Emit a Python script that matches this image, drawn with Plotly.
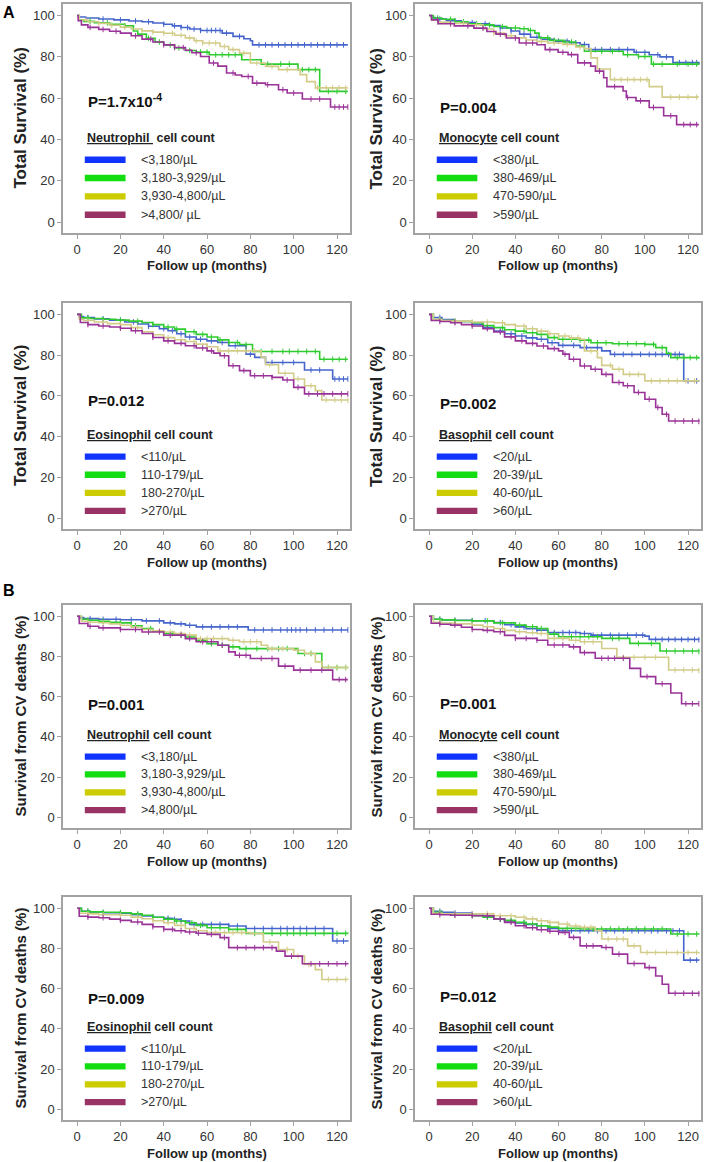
import plotly.graph_objects as go
from bisect import bisect_right

# ---------------- DATA ----------------
# Each panel: 4 series (blue, green, yellow, purple); step times (months), survival (%), censor times
NEUT_OS_T = [
    [0, 1, 4, 10, 17, 24, 30, 35, 40, 44, 48, 52, 57, 67, 72, 77, 80, 81, 125],
    [0, 1, 3, 8, 15, 22, 26, 28, 32, 36, 40, 45, 50, 55, 61, 76, 85, 102, 112, 125],
    [0, 1, 5, 10, 15, 20, 25, 30, 35, 40, 45, 50, 54, 58, 66, 70, 75, 80, 87, 93, 103, 106, 110, 125],
    [0, 0.5, 2, 5, 10, 15, 20, 25, 30, 35, 40, 45, 50, 53, 57, 61, 65, 69, 73, 76, 81, 87, 93, 97, 104, 117, 125],
]
NEUT_OS_S = [
    [100, 99.3, 98.8, 98.3, 97.9, 97.4, 97.0, 96.4, 95.8, 95.0, 94.2, 93.5, 92.8, 91.5, 89.9, 88.8, 87.8, 85.8, 85.8],
    [100, 98, 97.2, 96.5, 95.8, 95, 92.5, 91, 89, 87.2, 85.8, 84.3, 83.1, 82.3, 81, 78.6, 76.5, 73.8, 63.3, 63.3],
    [100, 97.8, 97, 96.2, 95.3, 94.4, 93.5, 92.6, 92, 91.4, 90.5, 89.2, 87.8, 86.7, 85, 83.5, 81.8, 77, 75.4, 73.8, 71.4, 68, 65, 65],
    [100, 97.5, 95.5, 94.3, 93.3, 92.4, 91.5, 90.2, 88.6, 87.2, 85.8, 84.5, 83.2, 82, 80.2, 77, 75.5, 72.2, 71.2, 70.5, 67.3, 66.5, 64.1, 62.5, 59.6, 55.7, 55.7],
]
NEUT_OS_C = [
    [12, 20, 27, 33, 40, 45, 48, 51, 54, 57, 60, 62, 64, 66, 69, 75, 84, 87, 90, 93, 96, 99, 102, 105, 108, 111, 114, 117, 120, 123],
    [6, 14, 22, 33, 38, 43, 47, 52, 57, 60, 64, 67, 70, 73, 88, 94, 98, 104, 107, 110, 116, 120, 124],
    [4, 10, 16, 22, 30, 35, 40, 44, 48, 52, 55, 58, 61, 64, 68, 72, 77, 83, 90, 97, 111, 115, 118, 121, 124],
    [6, 12, 18, 27, 34, 40, 45, 49, 55, 63, 72, 79, 83, 88, 95, 100, 108, 112, 119, 121, 123, 125],
]

MONO_OS_T = [
    [0, 1, 3, 8, 15, 22, 28, 33, 38, 42, 47, 52, 58, 65, 70, 74, 95, 102, 107, 113, 125],
    [0, 2, 6, 12, 18, 24, 30, 36, 42, 46, 49, 51, 56, 62, 68, 72, 90, 97, 103, 125],
    [0, 1, 4, 10, 18, 25, 30, 35, 40, 45, 50, 55, 62, 68, 72, 75, 78, 84, 102, 108, 125],
    [0, 1.2, 4.2, 11.7, 20.8, 26.8, 31, 35.8, 41.8, 50, 53.8, 59.8, 64.4, 68.9, 74.9, 77.1, 80.9, 82.4, 89.9, 91.4, 95.9, 102, 108.7, 114.7, 125],
]
MONO_OS_S = [
    [100, 99, 98.3, 97.5, 96.6, 96, 95.2, 94, 92.5, 91, 89.5, 88.5, 87.6, 86.8, 86, 83.5, 82.2, 81, 80, 77.2, 76.3],
    [100, 98.8, 98.2, 97, 96, 95.5, 94.7, 94, 93.6, 92.8, 91.5, 89.2, 88, 87.2, 85.2, 82.7, 81, 80.2, 76.5, 76.3],
    [100, 98, 96.8, 96.2, 95.5, 93.5, 91.5, 90.2, 89.2, 88.2, 87.5, 86.7, 86, 84.8, 84, 79.5, 74.1, 69, 65.6, 60.5, 60.5],
    [100, 97.9, 96, 95, 93.9, 92.3, 91, 89.1, 86.7, 85.9, 83.5, 82.2, 81.1, 77.1, 75.5, 73.1, 69.9, 65.6, 63.5, 60.3, 58.7, 55.5, 51.5, 47.2, 47.2],
]
MONO_OS_C = [
    [5, 12, 20, 26, 33, 38, 44, 50, 55, 60, 64, 68, 72, 77, 80, 84, 88, 92, 96, 100, 106, 110, 116, 119, 122, 124],
    [4, 10, 16, 22, 28, 34, 40, 44, 47, 55, 58, 63, 66, 75, 80, 85, 92, 97, 100, 104, 108, 115, 120, 124],
    [4, 10, 16, 22, 30, 38, 45, 52, 58, 64, 70, 86, 89, 92, 95, 98, 101, 112, 116, 120, 124],
    [4, 10, 18, 25, 33, 40, 45, 48, 56, 62, 66, 72, 79, 86, 92, 98, 104, 112, 118, 121, 124],
]

EOS_OS_T = [
    [0, 1, 3, 8, 15, 22, 28, 33, 38, 42, 46, 50, 55, 60, 65, 70, 78, 82, 87, 105, 118, 125],
    [0, 2, 6, 12, 18, 24, 30, 35, 40, 45, 50, 55, 60, 65, 70, 75, 81, 112, 125],
    [0, 1, 3, 8, 14, 20, 25, 30, 35, 40, 45, 50, 55, 60, 65, 85, 87, 93, 100, 105, 110, 113, 125],
    [0, 1.5, 5, 10, 15, 20, 25, 30, 35, 40, 45, 50, 55, 60, 63, 66, 70, 75, 80, 90, 95, 100, 105, 125],
]
EOS_OS_S = [
    [100, 99, 98.5, 97.8, 97.2, 96.3, 95.3, 94.2, 93, 92, 90.5, 88.9, 87.8, 87, 86.2, 84.6, 80.5, 78.9, 76.4, 72.7, 68.3, 68.3],
    [100, 98.3, 98, 97.6, 97.2, 96.7, 96, 95, 93.8, 92.8, 91.5, 90.2, 88.9, 87.5, 86.2, 85.2, 81.8, 78, 78],
    [100, 97.5, 97, 96.3, 95.5, 95, 93.5, 91.5, 90, 88.6, 87.6, 86.7, 85.4, 84.1, 82.1, 78.9, 75.3, 71.1, 68.3, 65, 62.6, 58, 57.8],
    [100, 96, 95, 94.3, 93.8, 93.2, 92, 90.6, 88.7, 87, 85.8, 84.6, 83.5, 82.1, 81, 79.7, 74.8, 72.4, 69.9, 69.1, 67.8, 64.2, 61, 61],
]
EOS_OS_C = [
    [5, 12, 20, 26, 33, 40, 44, 48, 52, 57, 62, 67, 73, 80, 90, 95, 100, 108, 112, 119, 121, 123, 125],
    [5, 12, 20, 28, 35, 42, 46, 50, 54, 58, 62, 66, 70, 74, 78, 85, 90, 95, 98, 102, 106, 110, 114, 118, 121, 124],
    [5, 12, 20, 28, 35, 42, 48, 54, 60, 66, 70, 74, 78, 82, 89, 96, 102, 108, 115, 119, 122, 125],
    [5, 12, 20, 27, 35, 42, 48, 54, 58, 62, 68, 72, 77, 82, 86, 90, 97, 102, 107, 111, 114, 118, 122, 125],
]

BASO_OS_T = [
    [0, 2, 6, 12, 20, 25, 30, 35, 40, 45, 50, 55, 60, 70, 80, 84, 118, 125],
    [0, 2, 6, 12, 20, 25, 30, 35, 40, 45, 50, 55, 60, 70, 75, 85, 100, 105, 110, 112, 125],
    [0, 2, 6, 10, 20, 30, 35, 40, 45, 50, 55, 60, 65, 70, 72, 78, 80, 85, 90, 100, 125],
    [0, 1, 5, 10, 15, 20, 25, 30, 35, 40, 45, 50, 55, 60, 62, 65, 70, 75, 80, 85, 90, 95, 100, 105, 108, 111, 125],
]
BASO_OS_S = [
    [100, 98.5, 97.5, 96.5, 95.1, 93.5, 91.8, 90.5, 89.4, 88.5, 87.8, 86.1, 84.8, 83.7, 82.1, 80.4, 67.4, 67.2],
    [100, 97.5, 97, 96.5, 95.9, 94.5, 93.5, 92.5, 91.8, 91, 90.2, 88.6, 87.8, 87.4, 86.1, 85.6, 85.3, 83.7, 80.9, 78.8, 78.3],
    [100, 97.5, 97, 96.7, 96.3, 95.9, 95, 94.3, 93, 91.8, 90.5, 89.4, 88.5, 87.8, 82.1, 78.8, 75, 73.1, 70.6, 67.4, 67.2],
    [100, 97, 96.5, 95.9, 95, 94.3, 93, 91.4, 89, 87, 85.8, 84.5, 83.2, 82.1, 80.5, 78, 74.7, 73.1, 70.6, 66.6, 65, 61.7, 58.4, 54.3, 51, 47.7, 47.5],
]
BASO_OS_C = [
    [5, 12, 20, 27, 33, 38, 43, 48, 52, 57, 62, 67, 73, 78, 86, 90, 94, 98, 102, 105, 108, 111, 114, 116, 120, 124],
    [5, 12, 20, 27, 34, 40, 44, 48, 52, 58, 62, 66, 70, 74, 78, 82, 88, 92, 96, 100, 104, 108, 115, 118, 121, 124],
    [5, 12, 20, 27, 34, 40, 44, 48, 52, 56, 60, 63, 66, 69, 75, 84, 88, 93, 97, 103, 107, 111, 115, 119, 123],
    [5, 12, 20, 27, 33, 38, 43, 48, 53, 58, 63, 67, 72, 77, 82, 88, 92, 97, 102, 106, 110, 114, 118, 122, 125],
]

NEUT_CV_T = [
    [0, 1, 3, 10, 20, 30, 40, 45, 50, 55, 79, 125],
    [0, 2, 5, 10, 15, 20, 25, 30, 35, 40, 45, 50, 55, 60, 65, 70, 75, 102, 113, 125],
    [0, 2, 5, 10, 15, 20, 25, 30, 35, 40, 45, 50, 55, 70, 75, 85, 88, 100, 105, 110, 113, 125],
    [0, 1, 5, 10, 20, 30, 40, 50, 55, 65, 70, 73, 80, 93, 100, 118, 125],
]
NEUT_CV_S = [
    [100, 99.3, 98.8, 98.5, 98.3, 97.7, 96.7, 96.2, 95.5, 94.7, 93.2, 93.2],
    [100, 98.5, 98, 97.5, 97, 96.7, 95.3, 93.9, 92.6, 91.4, 90.6, 89.7, 88, 86.4, 85.6, 84.8, 83.9, 81.5, 74.5, 74.5],
    [100, 97.5, 97, 96.8, 96.2, 95.5, 94.5, 93.4, 92.8, 92.2, 91.4, 90.6, 88.9, 88.1, 87.3, 85.6, 83.9, 83.1, 81.5, 77.3, 74.5, 74],
    [100, 96.4, 95, 94.2, 93.4, 92.2, 90.6, 88.9, 87.3, 85.6, 82.3, 80.6, 79, 75.2, 73.2, 68.5, 68.5],
]
NEUT_CV_C = [
    [6, 12, 18, 25, 32, 38, 43, 48, 52, 58, 62, 66, 70, 74, 82, 86, 90, 94, 97, 99, 101, 103, 106, 110, 114, 118, 122, 125],
    [5, 12, 20, 27, 34, 40, 44, 48, 52, 57, 62, 67, 72, 78, 83, 88, 93, 97, 105, 108, 116, 120, 124],
    [5, 12, 20, 27, 33, 38, 43, 48, 52, 57, 60, 63, 67, 72, 77, 80, 83, 90, 95, 102, 108, 116, 120, 124],
    [6, 12, 20, 27, 33, 38, 43, 48, 52, 58, 62, 67, 75, 78, 85, 90, 96, 103, 108, 113, 121, 124],
]

MONO_CV_T = [
    [0, 2, 6, 12, 20, 30, 35, 40, 45, 50, 55, 70, 75, 100, 102, 125],
    [0, 2, 6, 12, 20, 30, 40, 45, 50, 55, 60, 80, 93, 107, 125],
    [0, 2, 6, 12, 20, 25, 30, 35, 40, 45, 50, 55, 65, 70, 80, 87, 111, 125],
    [0, 1, 5, 10, 15, 20, 25, 30, 35, 40, 50, 55, 65, 70, 77, 93, 98, 105, 112, 117, 125],
]
MONO_CV_S = [
    [100, 98.5, 98.2, 98, 97.8, 96.9, 95.8, 94.7, 93.8, 93.1, 91.9, 91.4, 90.6, 90.1, 88.5, 88.3],
    [100, 98.5, 98.2, 97.9, 97.7, 96.7, 95.6, 94.8, 93.9, 91.1, 89.8, 89, 86.5, 82.7, 82.5],
    [100, 97, 96.6, 96.2, 95.6, 94.8, 93.9, 93, 92.3, 91.8, 91.4, 89, 88.1, 87.3, 84, 79.6, 73.3, 73],
    [100, 96.5, 96, 95.6, 94.5, 93.4, 93, 92.3, 90.5, 89, 88.1, 85.7, 84.8, 81.9, 79.1, 74.1, 70, 66.4, 61.8, 56.5, 56.5],
]
MONO_CV_C = [
    [5, 12, 20, 26, 33, 38, 44, 50, 55, 58, 62, 65, 68, 72, 76, 80, 84, 88, 92, 96, 99, 105, 108, 111, 114, 117, 120, 123, 125],
    [5, 12, 20, 27, 34, 42, 48, 52, 58, 62, 66, 70, 74, 78, 85, 88, 97, 103, 110, 114, 118, 122, 125],
    [5, 12, 20, 27, 34, 42, 48, 52, 58, 62, 68, 72, 76, 90, 95, 100, 105, 114, 118, 122, 125],
    [5, 12, 20, 27, 33, 40, 45, 50, 58, 62, 67, 72, 80, 83, 86, 90, 101, 108, 119, 122, 125],
]

EOS_CV_T = [
    [0, 2, 6, 12, 20, 25, 30, 35, 40, 44, 48, 52, 70, 78, 118, 125],
    [0, 2, 6, 12, 20, 25, 30, 35, 40, 45, 50, 55, 60, 70, 78, 125],
    [0, 1, 5, 10, 20, 25, 30, 35, 40, 45, 50, 55, 60, 80, 86, 93, 100, 105, 110, 113, 125],
    [0, 1, 5, 10, 15, 20, 25, 30, 35, 40, 45, 50, 55, 60, 66, 70, 92, 96, 104, 125],
]
EOS_CV_S = [
    [100, 98.5, 98.2, 97.8, 97.5, 96.8, 96.2, 95.5, 95, 94.5, 93.7, 92, 91.2, 89.9, 83.7, 83.5],
    [100, 98.5, 98.2, 98, 97.8, 97.2, 96.5, 95.5, 94.5, 93.7, 92.8, 91.5, 90.3, 89.5, 87.5, 87.3],
    [100, 97.5, 97.2, 96.8, 96.5, 95.6, 94.8, 93.8, 92.8, 91.5, 89.9, 88.8, 87.9, 87.4, 83.2, 79.5, 76.2, 72, 69.5, 64.6, 64.5],
    [100, 96, 95.6, 95.3, 94.6, 94, 93.2, 92, 90.8, 89.5, 88.8, 88.2, 87.6, 87, 85.4, 80.4, 78.7, 76.2, 72.4, 72.2],
]
EOS_CV_C = [
    [5, 12, 20, 28, 35, 42, 45, 48, 54, 58, 62, 66, 70, 74, 82, 86, 90, 94, 97, 100, 103, 106, 110, 114, 120, 123],
    [5, 12, 20, 28, 35, 42, 46, 50, 53, 57, 62, 66, 70, 74, 82, 86, 90, 94, 97, 100, 103, 106, 110, 114, 120, 124],
    [5, 12, 20, 28, 35, 42, 48, 54, 60, 64, 68, 72, 76, 89, 97, 102, 107, 116, 120, 124],
    [5, 12, 20, 28, 35, 40, 44, 48, 52, 56, 62, 68, 74, 78, 82, 86, 90, 99, 108, 112, 116, 120, 124],
]

BASO_CV_T = [
    [0, 2, 6, 12, 20, 25, 30, 35, 40, 45, 50, 55, 60, 118, 125],
    [0, 2, 6, 12, 20, 25, 30, 35, 40, 45, 50, 55, 60, 70, 112, 125],
    [0, 2, 6, 12, 20, 30, 40, 45, 50, 55, 60, 65, 70, 77, 80, 92, 98, 125],
    [0, 1, 5, 10, 20, 30, 35, 40, 45, 50, 55, 60, 65, 70, 80, 85, 92, 100, 105, 108, 111, 125],
]
BASO_CV_S = [
    [100, 98.5, 98, 97.6, 97.2, 96, 94.7, 93.7, 92.7, 92, 91.3, 90, 88.8, 74.2, 74],
    [100, 98, 97.2, 96.8, 96.3, 95.5, 94.7, 94, 93, 92.2, 91.3, 90.6, 90, 89.7, 87.2, 87],
    [100, 97.5, 97.3, 97.2, 97.2, 96.3, 95.5, 94.7, 93.8, 93, 92.2, 91.2, 90.5, 88.8, 84.7, 81.3, 78, 77.5],
    [100, 97, 96.8, 96.5, 96.3, 94.7, 93, 91.3, 90.3, 89.3, 88.6, 88, 85.5, 81.3, 80.5, 77.2, 72.5, 70.5, 66.3, 62.2, 57.7, 57.5],
]
BASO_CV_C = [
    [5, 12, 20, 27, 33, 38, 44, 50, 56, 62, 66, 70, 74, 78, 82, 86, 90, 94, 97, 100, 103, 106, 110, 113, 116, 121, 124],
    [5, 12, 20, 27, 33, 38, 44, 48, 52, 56, 60, 64, 68, 72, 76, 80, 84, 88, 92, 96, 100, 104, 108, 115, 120, 124],
    [5, 12, 20, 27, 33, 38, 44, 48, 52, 56, 60, 64, 68, 72, 75, 83, 87, 90, 95, 101, 105, 110, 115, 120, 124],
    [5, 12, 20, 27, 33, 38, 44, 48, 52, 56, 60, 63, 67, 73, 76, 82, 88, 95, 102, 114, 118, 122, 125],
]

NEUT_LABELS = ["<3,180/\u00b5L", "3,180-3,929/\u00b5L", "3,930-4,800/\u00b5L", ">4,800/ \u00b5L"]
NEUT_LABELS_CV = ["<3,180/\u00b5L", "3,180-3,929/\u00b5L", "3,930-4,800/\u00b5L", ">4,800/\u00b5L"]
MONO_LABELS = ["<380/\u00b5L", "380-469/\u00b5L", "470-590/\u00b5L", ">590/\u00b5L"]
EOS_LABELS = ["<110/\u00b5L", "110-179/\u00b5L", "180-270/\u00b5L", ">270/\u00b5L"]
BASO_LABELS = ["<20/\u00b5L", "20-39/\u00b5L", "40-60/\u00b5L", ">60/\u00b5L"]

X_TICKS = [0, 20, 40, 60, 80, 100, 120]
Y_TICKS = [0, 20, 40, 60, 80, 100]

# ---------------- STYLE / LAYOUT ----------------
W, H = 709, 1162
FONT = "Liberation Sans, Arial, sans-serif"
LINE_COLORS = ["#4565cc", "#2fcc2f", "#d2cc88", "#9a3399"]
SWATCH_COLORS = ["#1133ff", "#11dd11", "#cccc00", "#993366"]
BOX = "#a3a3a3"
COLS = [(63, 350), (415, 701)]
ROWS = [(4, 233), (303, 529), (605, 828), (897, 1120)]

PANELS = [
    dict(T=NEUT_OS_T, S=NEUT_OS_S, C=NEUT_OS_C, labels=NEUT_LABELS, name="Neutrophil\u00a0", title="Total Survival (%)",
         p="P=1.7x10<sup>-4</sup>", py=0.42, row=0, col=0),
    dict(T=MONO_OS_T, S=MONO_OS_S, C=MONO_OS_C, labels=MONO_LABELS, name="Monocyte", title="Total Survival (%)",
         p="P=0.004", py=0.452, row=0, col=1),
    dict(T=EOS_OS_T, S=EOS_OS_S, C=EOS_OS_C, labels=EOS_LABELS, name="Eosinophil", title="Total Survival (%)",
         p="P=0.012", py=0.43, row=1, col=0),
    dict(T=BASO_OS_T, S=BASO_OS_S, C=BASO_OS_C, labels=BASO_LABELS, name="Basophil", title="Total Survival (%)",
         p="P=0.002", py=0.444, row=1, col=1),
    dict(T=NEUT_CV_T, S=NEUT_CV_S, C=NEUT_CV_C, labels=NEUT_LABELS_CV, name="Neutrophil", title="Survival from CV deaths (%)",
         p="P=0.001", py=0.448, row=2, col=0),
    dict(T=MONO_CV_T, S=MONO_CV_S, C=MONO_CV_C, labels=MONO_LABELS, name="Monocyte", title="Survival from CV deaths (%)",
         p="P=0.001", py=0.44, row=2, col=1),
    dict(T=EOS_CV_T, S=EOS_CV_S, C=EOS_CV_C, labels=EOS_LABELS, name="Eosinophil", title="Survival from CV deaths (%)",
         p="P=0.009", py=0.454, row=3, col=0),
    dict(T=BASO_CV_T, S=BASO_CV_S, C=BASO_CV_C, labels=BASO_LABELS, name="Basophil", title="Survival from CV deaths (%)",
         p="P=0.012", py=0.448, row=3, col=1),
]

SWATCH_Y = [0.68, 0.76, 0.84, 0.92]   # fraction from top of plot box


def px_x(v):
    return v / W


def px_y(v):
    return 1 - v / H


def step_value(T, S, t):
    i = bisect_right(T, t) - 1
    return S[max(i, 0)]


fig = go.Figure()
layout = dict(width=W, height=H, margin=dict(l=0, r=0, t=0, b=0),
              paper_bgcolor="white", plot_bgcolor="white", showlegend=False,
              font=dict(family=FONT, color="#333333"))
annotations = []
shapes = []

for k, p in enumerate(PANELS):
    n = k + 1
    xa = "x" if n == 1 else f"x{n}"
    ya = "y" if n == 1 else f"y{n}"
    x0, x1 = COLS[p["col"]]
    y0, y1 = ROWS[p["row"]]
    axis_common = dict(showline=True, mirror=True, linecolor=BOX, linewidth=1.5,
                       ticks="outside", ticklen=4, tickwidth=1, tickcolor=BOX,
                       showgrid=False, zeroline=False,
                       tickfont=dict(family=FONT, size=13, color="#333333"))
    layout["xaxis" if n == 1 else f"xaxis{n}"] = dict(
        domain=[px_x(x0), px_x(x1)], range=[-6.5, 126], tickvals=X_TICKS,
        anchor=ya, **axis_common)
    layout["yaxis" if n == 1 else f"yaxis{n}"] = dict(
        domain=[px_y(y1), px_y(y0)], range=[-5.3, 105.6], tickvals=Y_TICKS,
        anchor=xa, **axis_common)

    for j in range(4):
        T, S, C = p["T"][j], p["S"][j], p["C"][j]
        fig.add_trace(go.Scatter(x=T, y=S, xaxis=xa, yaxis=ya, mode="lines",
                                 line=dict(color=LINE_COLORS[j], width=1.6, shape="hv"),
                                 hoverinfo="skip"))
        fig.add_trace(go.Scatter(x=C, y=[step_value(T, S, c) for c in C], xaxis=xa, yaxis=ya,
                                 mode="markers",
                                 marker=dict(symbol="line-ns", size=4,
                                             line=dict(color=LINE_COLORS[j], width=1)),
                                 hoverinfo="skip"))

    xd, yd = f"{xa} domain", f"{ya} domain"
    # P value
    annotations.append(dict(xref=xd, yref=yd, x=0.08, y=1 - p["py"], xanchor="left", yanchor="middle",
                            text=f"<b>{p['p']}</b>", showarrow=False,
                            font=dict(family=FONT, size=15, color="#111111")))
    # legend title
    annotations.append(dict(xref=xd, yref=yd, x=0.078, y=1 - 0.585, xanchor="left", yanchor="middle",
                            text=f"<b><u>{p['name']}</u> cell count</b>",
                            showarrow=False, font=dict(family=FONT, size=12.5, color="#222222")))
    for j in range(4):
        yy = 1 - SWATCH_Y[j]
        shapes.append(dict(type="rect", xref=xd, yref=yd, x0=0.076, x1=0.218,
                           y0=yy - 0.014, y1=yy + 0.014, fillcolor=SWATCH_COLORS[j],
                           line=dict(width=0), layer="above"))
        annotations.append(dict(xref=xd, yref=yd, x=0.265, y=yy, xanchor="left", yanchor="middle",
                                text=p["labels"][j], showarrow=False,
                                font=dict(family=FONT, size=12.5, color="#333333")))
    # axis titles
    ttl_size = 17 if p["row"] < 2 else 15
    annotations.append(dict(xref="paper", yref="paper",
                            x=px_x(20 if p["col"] == 0 else 376), y=px_y((y0 + y1) / 2),
                            xanchor="center", yanchor="middle", textangle=-90,
                            text=f"<b>{p['title']}</b>", showarrow=False,
                            font=dict(family=FONT, size=ttl_size, color="#222222")))
    annotations.append(dict(xref="paper", yref="paper",
                            x=px_x((x0 + x1) / 2), y=px_y(y1 + 33),
                            xanchor="center", yanchor="middle",
                            text="<b>Follow up (months)</b>", showarrow=False,
                            font=dict(family=FONT, size=13, color="#222222")))

annotations.append(dict(xref="paper", yref="paper", x=px_x(1), y=px_y(13), xanchor="left",
                        yanchor="middle", text="<b>A</b>", showarrow=False,
                        font=dict(family=FONT, size=16, color="#000000")))
annotations.append(dict(xref="paper", yref="paper", x=px_x(1), y=px_y(590), xanchor="left",
                        yanchor="middle", text="<b>B</b>", showarrow=False,
                        font=dict(family=FONT, size=16, color="#000000")))

layout["annotations"] = annotations
layout["shapes"] = shapes
fig.update_layout(**layout)
fig.write_html("out.html", config={"displayModeBar": False},
               post_script="document.body.style.margin='0';document.body.style.overflow='hidden';")
